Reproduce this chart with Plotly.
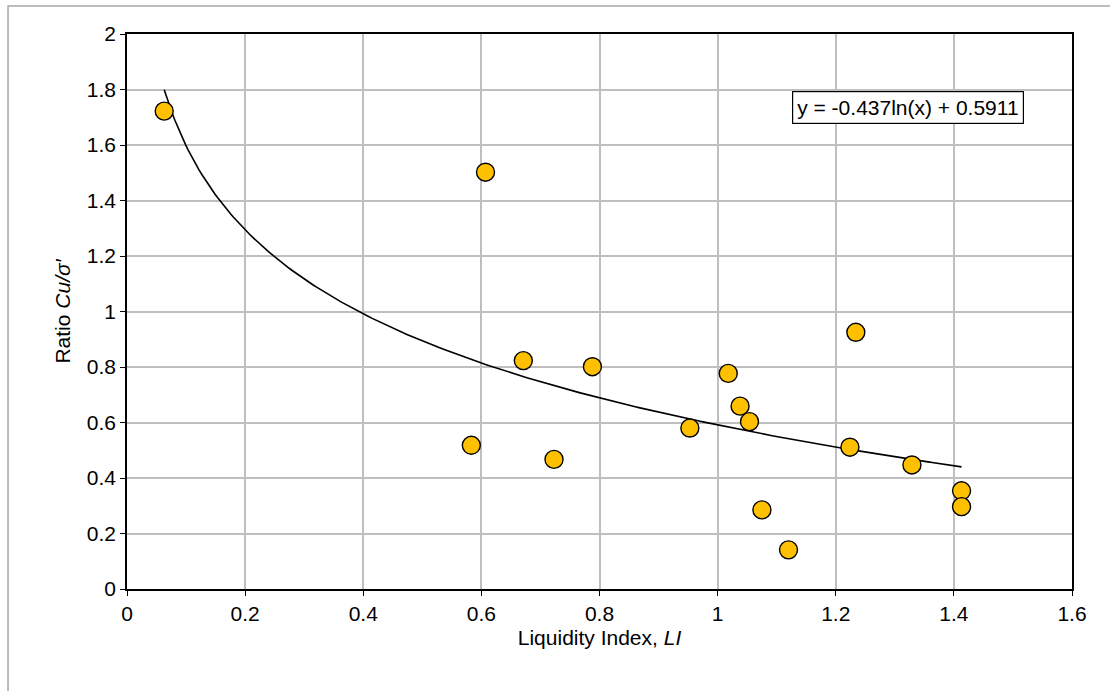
import numpy as np
import plotly.graph_objects as go

# Data
li = [0.063, 0.607, 0.583, 0.671, 0.723, 0.788, 0.953, 1.018, 1.038, 1.054,
      1.075, 1.120, 1.224, 1.234, 1.329, 1.413, 1.413]
ratio = [1.722, 1.502, 0.518, 0.823, 0.467, 0.801, 0.580, 0.777, 0.659, 0.603,
         0.285, 0.141, 0.511, 0.925, 0.447, 0.354, 0.297]

# Trend line coefficients (y = a ln(x) + b)
coef_a = -0.437
coef_b = 0.5911
equation_text = "y = -0.437ln(x) + 0.5911"

x_ticks = [0, 0.2, 0.4, 0.6, 0.8, 1.0, 1.2, 1.4, 1.6]
x_tick_labels = ["0", "0.2", "0.4", "0.6", "0.8", "1", "1.2", "1.4", "1.6"]
y_ticks = [0, 0.2, 0.4, 0.6, 0.8, 1.0, 1.2, 1.4, 1.6, 1.8, 2.0]
y_tick_labels = ["0", "0.2", "0.4", "0.6", "0.8", "1", "1.2", "1.4", "1.6", "1.8", "2"]

xt = np.linspace(min(li), max(li), 300)
yt = coef_a * np.log(xt) + coef_b

fig = go.Figure()
fig.add_trace(go.Scatter(x=xt, y=yt, mode="lines",
                         line=dict(color="black", width=1.6),
                         showlegend=False, hoverinfo="skip"))
fig.add_trace(go.Scatter(x=li, y=ratio, mode="markers",
                         marker=dict(size=18, color="#FFC000",
                                     line=dict(color="black", width=1.4)),
                         showlegend=False))

font = "Liberation Sans, Arial, sans-serif"
fig.update_layout(
    width=1110, height=691,
    margin=dict(l=127, r=38, t=34, b=102),
    paper_bgcolor="white", plot_bgcolor="white",
    font=dict(family=font, size=21, color="black"),
    xaxis=dict(range=[0, 1.6], tickvals=x_ticks, ticktext=x_tick_labels,
               showgrid=True, gridcolor="#BFBFBF", gridwidth=1.5,
               showline=True, linecolor="black", linewidth=1.6, mirror=True,
               ticks="outside", ticklen=5, tickcolor="black", tickwidth=1.3,
               zeroline=False, tickfont=dict(size=21),
               title=dict(text="Liquidity Index, <i>LI</i>", font=dict(size=21), standoff=6)),
    yaxis=dict(range=[0, 2], tickvals=y_ticks, ticktext=y_tick_labels,
               showgrid=True, gridcolor="#BFBFBF", gridwidth=1.5,
               showline=True, linecolor="black", linewidth=1.6, mirror=True,
               ticks="outside", ticklen=5, tickcolor="black", tickwidth=1.3,
               zeroline=False, tickfont=dict(size=21),
               title=dict(text="Ratio <i>Cu/σ′</i>", font=dict(size=21), standoff=10)),
    annotations=[dict(text=equation_text, xref="paper", yref="paper",
                      x=0.8265, y=0.8667, xanchor="center", yanchor="middle",
                      showarrow=False, font=dict(size=21),
                      bordercolor="black", borderwidth=1.2, borderpad=4,
                      bgcolor="white")],
    shapes=[dict(type="rect", xref="paper", yref="paper",
                 x0=-0.1259, x1=1.06, y0=-0.2, y1=1.0505,
                 line=dict(color="#A6A6A6", width=1.5), layer="below")],
)

fig.write_html("out.html")
